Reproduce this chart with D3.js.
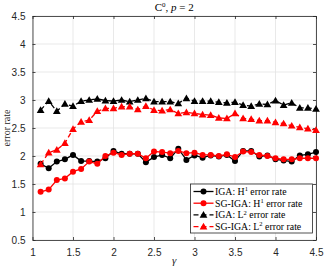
<!DOCTYPE html>
<html>
<head>
<meta charset="utf-8">
<script src="https://cdn.jsdelivr.net/npm/d3@7"></script>
<style>
body { margin: 0; background: #fff; }
svg { display: block; }
</style>
</head>
<body>
<svg width="324" height="270"></svg>
<script>
var gamma = [1.1,1.2,1.3,1.4,1.5,1.6,1.7,1.8,1.9,2.0,2.1,2.2,2.3,2.4,2.5,2.6,2.7,2.8,2.9,3.0,3.1,3.2,3.3,3.4,3.5,3.6,3.7,3.8,3.9,4.0,4.1,4.2,4.3,4.4,4.5];

var igaH1 = [1.86,1.78,1.90,1.94,2.02,1.91,1.91,1.90,1.96,2.09,2.04,2.04,
             2.04,1.89,1.98,2.02,1.96,2.13,1.93,2.01,1.97,2.01,1.99,
             2.02,1.91,2.09,2.09,1.99,2.01,1.94,1.92,1.90,2.01,2.03,2.07];
var sgH1  = [1.36,1.40,1.57,1.60,1.72,1.77,1.90,1.86,2.00,2.06,2.02,2.04,
             2.04,1.96,2.08,2.07,2.05,2.09,2.05,2.06,2.02,2.02,2.00,
             2.03,1.98,2.08,2.07,2.02,2.00,1.96,1.94,1.94,1.96,1.96,1.96];
var igaL2 = [2.82,2.98,2.80,2.93,2.89,2.98,3.00,3.02,2.99,2.98,3.00,2.97,
             3.00,3.03,2.97,2.97,2.97,2.94,3.03,2.98,2.98,2.98,2.96,
             2.95,2.96,2.91,2.89,2.93,2.92,2.99,2.91,2.95,2.86,2.86,2.84];
var sgL2  = [1.85,2.06,2.11,2.23,2.48,2.61,2.64,2.80,2.85,2.85,2.88,2.88,
             2.83,2.89,2.82,2.81,2.83,2.76,2.78,2.76,2.74,2.73,2.68,
             2.67,2.76,2.67,2.66,2.63,2.63,2.60,2.58,2.54,2.51,2.49,2.46];

var xTicks = [1,1.5,2,2.5,3,3.5,4,4.5];
var yTicks = [0.5,1,1.5,2,2.5,3,3.5,4,4.5];

var series = [
  {name: "IGA", norm: "H", sup: "1", values: igaH1, color: "#000", dash: null, marker: "circle"},
  {name: "SG-IGA", norm: "H", sup: "1", values: sgH1, color: "#ff0000", dash: null, marker: "circle"},
  {name: "IGA", norm: "L", sup: "2", values: igaL2, color: "#000", dash: "5,3", marker: "triangle"},
  {name: "SG-IGA", norm: "L", sup: "2", values: sgL2, color: "#ff0000", dash: "5,3", marker: "triangle"}
];

var svg = d3.select("svg"),
    margin = {top: 16, right: 8, bottom: 30, left: 32.5},
    width = +svg.attr("width") - margin.left - margin.right,
    height = +svg.attr("height") - margin.top - margin.bottom,
    g = svg.append("g").attr("transform", "translate(" + margin.left + "," + margin.top + ")");

var serif = "'Liberation Serif', 'DejaVu Serif', serif";
var sans = "'Liberation Sans', Arial, sans-serif";
var axisColor = "#262626";

var x = d3.scaleLinear().domain([1, 4.5]).range([0, width]);
var y = d3.scaleLinear().domain([0.5, 4.5]).range([height, 0]);

// grid
g.append("g").selectAll("line").data(xTicks).enter().append("line")
    .attr("x1", d => x(d)).attr("x2", d => x(d))
    .attr("y1", 0).attr("y2", height)
    .attr("stroke", "#e3e3e3").attr("stroke-width", 0.8);
g.append("g").selectAll("line").data(yTicks).enter().append("line")
    .attr("y1", d => y(d)).attr("y2", d => y(d))
    .attr("x1", 0).attr("x2", width)
    .attr("stroke", "#e3e3e3").attr("stroke-width", 0.8);

// axes (inside ticks, box on)
function styleAxis(sel) {
  sel.select(".domain").attr("stroke", axisColor).attr("stroke-width", 0.8);
  sel.selectAll(".tick line").attr("stroke", axisColor).attr("stroke-width", 0.8);
  sel.selectAll(".tick text").attr("fill", axisColor).style("font-family", sans).style("font-size", "10px");
}

g.append("g")
    .attr("transform", "translate(0," + height + ")")
    .call(d3.axisBottom(x).tickValues(xTicks).tickFormat(d3.format("")).tickSizeInner(-3).tickSizeOuter(0).tickPadding(9))
    .call(styleAxis);
g.append("g")
    .call(d3.axisTop(x).tickValues(xTicks).tickFormat("").tickSizeInner(-3).tickSizeOuter(0))
    .call(styleAxis);
g.append("g")
    .call(d3.axisLeft(y).tickValues(yTicks).tickFormat(d3.format("")).tickSizeInner(-3).tickSizeOuter(0).tickPadding(7))
    .call(styleAxis);
g.append("g")
    .attr("transform", "translate(" + width + ",0)")
    .call(d3.axisRight(y).tickValues(yTicks).tickFormat("").tickSizeInner(-3).tickSizeOuter(0))
    .call(styleAxis);

// series
var line = d3.line()
    .x(function(d, i) { return x(gamma[i]); })
    .y(function(d) { return y(d); });

var tri = d3.symbol().type(d3.symbolTriangle).size(26);

function drawMarker(sel, s) {
  if (s.marker === "circle") {
    sel.append("circle").attr("r", 3).attr("fill", s.color);
  } else {
    sel.append("path").attr("d", tri).attr("fill", s.color).attr("transform", "translate(0,0.6)");
  }
}

series.forEach(function(s) {
  var sg = g.append("g");
  sg.append("path")
      .attr("d", line(s.values))
      .attr("fill", "none")
      .attr("stroke", s.color)
      .attr("stroke-width", 1.3)
      .attr("stroke-dasharray", s.dash);
  sg.selectAll("g.pt").data(s.values).enter().append("g")
      .attr("class", "pt")
      .attr("transform", function(d, i) { return "translate(" + x(gamma[i]) + "," + y(d) + ")"; })
      .each(function() { drawMarker(d3.select(this), s); });
});

// title
var title = svg.append("text")
    .attr("x", margin.left + width / 2).attr("y", 11)
    .attr("text-anchor", "middle")
    .style("font-family", serif).style("font-size", "11px").attr("fill", "#000");
title.append("tspan").text("C");
title.append("tspan").attr("dy", -4).style("font-size", "7px").text("0");
title.append("tspan").attr("dy", 4).text(", ");
title.append("tspan").style("font-style", "italic").text("p");
title.append("tspan").text(" = 2");

// axis labels
svg.append("text")
    .attr("x", margin.left + width / 2).attr("y", 264)
    .attr("text-anchor", "middle")
    .style("font-family", serif).style("font-size", "11px").style("font-style", "italic")
    .attr("fill", axisColor)
    .text("γ");
svg.append("text")
    .attr("transform", "translate(10," + (margin.top + height / 2) + ") rotate(-90)")
    .attr("text-anchor", "middle")
    .style("font-family", serif).style("font-size", "10px")
    .attr("fill", axisColor)
    .text("error rate");

// legend
var lx = 190.5, ly = 184, lw = 122, lh = 49;
var legend = svg.append("g");
legend.append("rect")
    .attr("x", lx).attr("y", ly).attr("width", lw).attr("height", lh)
    .attr("fill", "#fff").attr("stroke", axisColor).attr("stroke-width", 0.8);

series.forEach(function(s, i) {
  var yy = ly + 7.5 + i * 11.7;
  var row = legend.append("g");
  row.append("line")
      .attr("x1", lx + 3).attr("x2", lx + 23)
      .attr("y1", yy).attr("y2", yy)
      .attr("stroke", s.color).attr("stroke-width", 1.3)
      .attr("stroke-dasharray", s.dash);
  var m = row.append("g").attr("transform", "translate(" + (lx + 13) + "," + yy + ")");
  drawMarker(m, s);
  var t = row.append("text")
      .attr("x", lx + 24.5).attr("y", yy + 3.3)
      .style("font-family", serif).style("font-size", "9.8px").attr("fill", "#000");
  t.append("tspan").text(s.name + ": " + s.norm);
  t.append("tspan").attr("dy", -3.5).style("font-size", "6.5px").text(s.sup);
  t.append("tspan").attr("dy", 3.5).text(" error rate");
});
</script>
</body>
</html>
